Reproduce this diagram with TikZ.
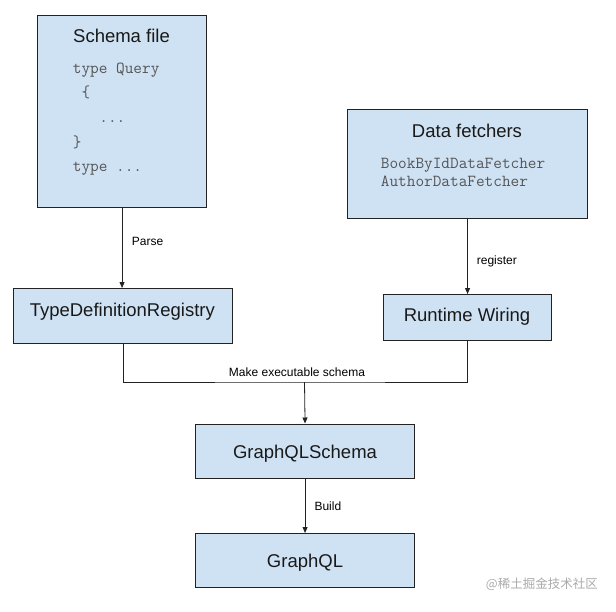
\documentclass[tikz,border=0pt]{standalone}
\usepackage{fontspec}
\setmainfont{Liberation Sans}
\newfontfamily\cjkfont{Noto Sans CJK SC}
\usetikzlibrary{arrows.meta}
\definecolor{boxfill}{HTML}{CFE2F3}
\definecolor{boxline}{HTML}{222222}
\definecolor{codegray}{HTML}{555555}
\definecolor{markgray}{HTML}{AAAAAA}
\tikzset{
  box/.style={draw=boxline, line width=1.1pt, fill=boxfill, inner sep=0pt, anchor=north west},
  title/.style={font=\fontsize{18.5}{22}\selectfont, anchor=base, inner sep=0pt, text=black!90},
  code/.style={font=\ttfamily\fontsize{16.8}{19}\selectfont, text=codegray, anchor=base west, inner sep=0pt},
  lbl/.style={font=\fontsize{12}{14}\selectfont, inner sep=0pt},
  conn/.style={draw=boxline, line width=0.8pt},
  arr/.style={conn, -{Triangle[length=6pt,width=5pt]}},
}
\begin{document}
\begin{tikzpicture}[x=1pt,y=-1pt]
\useasboundingbox (0,0) rectangle (616,611);
% boxes
\node[box, minimum width=169pt, minimum height=192pt] (schema) at (37,15) {};
\node[box, minimum width=240pt, minimum height=109pt] (df) at (347,109) {};
\node[box, minimum width=219pt, minimum height=55pt] (tdr) at (13,288) {};
\node[box, minimum width=168pt, minimum height=46pt] (rw) at (383,294) {};
\node[box, minimum width=219pt, minimum height=54pt] (gs) at (195,423.5) {};
\node[box, minimum width=219pt, minimum height=54pt] (gq) at (195,533) {};
% box texts
\node[title] (tdrtext) at (122.3,316) {TypeDefinitionRegistry};
\node[title] (rwtext) at (467,321.7) {Runtime Wiring};
\node[title] (gstext) at (305,458.3) {GraphQLSchema};
\node[title] (gqtext) at (305,567.7) {GraphQL};
% schema file contents
\node[title] (schematitle) at (121.5,42) {Schema file};
\node[code] (c1) at (72.7,73) {type Query};
\node[code] (c2) at (81.5,97.7) {\{};
\node[code] (c3) at (99.2,122.4) {...};
\node[code] (c4) at (72.7,147.1) {\}};
\node[code] (c5) at (72.7,171.8) {type ...};
% data fetchers contents
\node[title] (dftitle) at (467,137) {Data fetchers};
\node[code] (d1) at (380.7,168) {BookByIdDataFetcher};
\node[code] (d2) at (380.7,186.5) {AuthorDataFetcher};
% connectors
\draw[arr] (schema.south) -- (schema.south |- tdr.north);
\node[lbl, anchor=base west] (parse) at (131.7,245) {Parse};
\draw[arr] (df.south) -- (df.south |- rw.north);
\node[lbl, anchor=base west] (register) at (476.7,264) {register};
\coordinate (j) at (304.5,382);
\draw[conn] (tdr.south) |- (j) -| (rw.south);
\node[lbl, anchor=base] (make) at (297,376) {Make executable schema};
\draw[arr] (j) -- (gs.north);
\draw[arr] (gs.south) -- (gq.north);
\node[lbl, anchor=base west] (build) at (314.3,510) {Build};
% watermark
\node[anchor=base east, inner sep=0pt, text=markgray, font=\cjkfont\fontsize{12.5}{14}\selectfont] (wm) at (598,588) {@稀土掘金技术社区};
\end{tikzpicture}
\end{document}
